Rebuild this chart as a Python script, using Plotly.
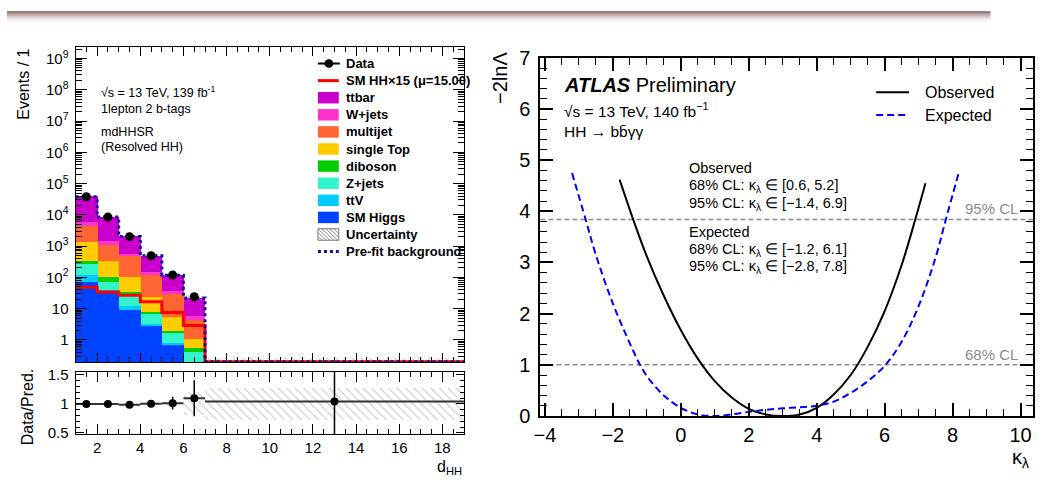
import plotly.graph_objects as go

W, H = 1058, 490
FONT = "Liberation Sans, Arial, Helvetica, sans-serif"


def px(x):
    return x / W


def py(y):
    return 1 - y / H


# ---------------- left panel data (Events / 1) ----------------
bin_edges = [1, 2, 3, 4, 5, 6, 7, 19]
bkg_names = ["ttbar", "W+jets", "multijet", "single Top", "diboson", "Z+jets", "ttV", "SM Higgs"]
bkg_colors = ["#CC00CC", "#FF33CC", "#FF6633", "#FFCC00", "#00CC00", "#33F5CC", "#00CCFF", "#0044FF"]
ttbar = [32400, 7100, 1480, 349, 82, 16.3, 0.12]
wjets = [1454, 341, 94, 24, 7.3, 1.33, 0.02]
multijet = [2820, 733, 370, 94, 23, 3.25, 0.03]
single_top = [1010, 241, 65.6, 15.7, 3.3, 0.47, 0.015]
diboson = [70, 26, 3.6, 1.3, 0.33, 0.15, 0.005]
zjets = [152, 34, 17.3, 3.3, 0.83, 0.25, 0.006]
ttv = [45, 6, 2.4, 0.41, 0.13, 0.03, 0.002]
sm_higgs = [72, 32, 9.1, 2.75, 0.66, 0.12, 0.002]
bkg_values = [ttbar, wjets, multijet, single_top, diboson, zjets, ttv, sm_higgs]

data_yield = [38000, 8500, 2010, 492, 119, 24, 0.208]
ratio_err = [0.005, 0.01, 0.02, 0.045, 0.11, 0.31, 1.5]
sm_hh_x15 = [48, 34, 27, 16.6, 7.5, 2.9, 0.2]
prefit_bkg = [38000, 8510, 2040, 490, 117, 21.9, 0.2]
unc_rel = [0.01, 0.012, 0.015, 0.025, 0.04, 0.2, 0.28]

ytick_vals = [1, 10, 1e2, 1e3, 1e4, 1e5, 1e6, 1e7, 1e8, 1e9]
ytick_text = ["1", "10", "10<sup>2</sup>", "10<sup>3</sup>", "10<sup>4</sup>", "10<sup>5</sup>",
              "10<sup>6</sup>", "10<sup>7</sup>", "10<sup>8</sup>", "10<sup>9</sup>"]
ratio_tick_vals = [0.5, 1, 1.5]
ratio_tick_text = ["0.5", "1", "1.5"]

# ---------------- right panel data ----------------
kl_obs = [-1.8, -1.4, -1.0, -0.5, 0.0, 0.5, 1.0, 1.5, 2.0, 2.5, 3.0, 3.5, 4.0, 4.5, 5.0, 5.5, 6.0, 6.5, 6.9, 7.2]
nll_obs = [4.62, 3.84, 3.12, 2.35, 1.68, 1.12, 0.68, 0.36, 0.14, 0.03, 0.0, 0.03, 0.16, 0.42, 0.8, 1.35, 2.05, 2.95, 3.84, 4.55]
kl_exp = [-3.2, -2.8, -2.5, -2.0, -1.5, -1.2, -1.0, -0.5, 0.0, 0.5, 1.0, 1.5, 2.0, 2.5, 3.0, 3.5, 4.0,
          4.5, 5.0, 5.5, 6.0, 6.5, 7.0, 7.5, 7.8, 8.2]
nll_exp = [4.75, 3.84, 3.15, 2.2, 1.42, 1.0, 0.78, 0.4, 0.16, 0.03, 0.0, 0.03, 0.08, 0.12, 0.15, 0.17, 0.2,
           0.28, 0.45, 0.68, 0.98, 1.45, 2.15, 3.1, 3.84, 4.8]
cl_levels = [1.0, 3.84]
cl_labels = ["68% CL", "95% CL"]

# ---------------- derived ----------------
nb = len(bin_edges) - 1
centers = [(bin_edges[i] + bin_edges[i + 1]) / 2 for i in range(nb)]
widths = [bin_edges[i + 1] - bin_edges[i] for i in range(nb)]
totals = [sum(v[i] for v in bkg_values) for i in range(nb)]
ratio = [d / t for d, t in zip(data_yield, totals)]

fig = go.Figure()

# stacked backgrounds (bottom -> top)
cum = [0.0] * nb
for name, color, vals in reversed(list(zip(bkg_names, bkg_colors, bkg_values))):
    fig.add_trace(go.Bar(x=centers, y=vals, base=list(cum), width=widths, name=name,
                         marker=dict(color=color, line=dict(width=0)), showlegend=False,
                         xaxis="x", yaxis="y"))
    cum = [c + v for c, v in zip(cum, vals)]

# uncertainty band (upper)
fig.add_trace(go.Bar(x=centers, y=[t * 2 * u for t, u in zip(totals, unc_rel)],
                     base=[t * (1 - u) for t, u in zip(totals, unc_rel)], width=widths,
                     marker=dict(color="rgba(0,0,0,0)", line=dict(width=0),
                                 pattern=dict(shape="\\", fgcolor="#8a8a8a", bgcolor="rgba(0,0,0,0)",
                                              size=6, solidity=0.18)),
                     showlegend=False, xaxis="x", yaxis="y"))

# SM HH x15 signal line
fig.add_trace(go.Scatter(x=bin_edges, y=sm_hh_x15 + [sm_hh_x15[-1]], mode="lines",
                         line=dict(color="#FF0000", width=3, shape="hv"), showlegend=False,
                         xaxis="x", yaxis="y"))
# pre-fit background
fig.add_trace(go.Scatter(x=bin_edges, y=prefit_bkg + [prefit_bkg[-1]], mode="lines",
                         line=dict(color="#1010A0", width=3, shape="hv", dash="dot"), showlegend=False,
                         xaxis="x", yaxis="y"))
# data (upper)
fig.add_trace(go.Scatter(x=centers[:6], y=data_yield[:6], mode="markers",
                         marker=dict(color="black", size=9), showlegend=False, xaxis="x", yaxis="y"))

# ratio uncertainty band
fig.add_trace(go.Bar(x=centers, y=[2 * u for u in unc_rel], base=[1 - u for u in unc_rel], width=widths,
                     marker=dict(color="rgba(0,0,0,0)", line=dict(width=0),
                                 pattern=dict(shape="\\", fgcolor="#8a8a8a", bgcolor="rgba(0,0,0,0)",
                                              size=6, solidity=0.18)),
                     showlegend=False, xaxis="x2", yaxis="y2"))
# ratio data
fig.add_trace(go.Scatter(x=centers, y=ratio, mode="markers",
                         marker=dict(color="black", size=8),
                         error_y=dict(type="data", array=ratio_err, color="black", thickness=1.5, width=0),
                         error_x=dict(type="data", array=[w / 2 for w in widths], color="#333333",
                                      thickness=2, width=0),
                         showlegend=False, xaxis="x2", yaxis="y2"))

# right panel curves
fig.add_trace(go.Scatter(x=kl_obs, y=nll_obs, mode="lines", name="Observed",
                         line=dict(color="black", width=2, shape="spline", smoothing=1.0),
                         showlegend=False, xaxis="x3", yaxis="y3"))
fig.add_trace(go.Scatter(x=kl_exp, y=nll_exp, mode="lines", name="Expected",
                         line=dict(color="#0000FF", width=2, shape="spline", smoothing=1.0, dash="7px,4px"),
                         showlegend=False, xaxis="x3", yaxis="y3"))

# ---------------- axes ----------------
xl = [px(69), px(460)]
tickfont_l = dict(family=FONT, size=15, color="black")
tickfont_r = dict(family=FONT, size=20, color="black")
common = dict(showline=True, linecolor="black", mirror="ticks", showgrid=False, zeroline=False,
              ticks="inside", tickcolor="black")

fig.update_layout(
    width=W, height=H, margin=dict(l=0, r=0, t=0, b=0),
    paper_bgcolor="white", plot_bgcolor="white", barmode="overlay", bargap=0,
    font=dict(family=FONT, color="black"),
    xaxis=dict(domain=xl, anchor="y", range=[1, 19], matches="x2", showticklabels=False,
               tick0=0, dtick=2, ticklen=9, linewidth=1,
               minor=dict(ticks="inside", dtick=0.5, ticklen=5, tickcolor="black"), **common),
    yaxis=dict(domain=[py(368), py(38)], anchor="x", type="log", range=[-0.721, 9.36],
               tickmode="array", tickvals=ytick_vals, ticktext=ytick_text, ticklen=11, linewidth=1,
               tickfont=tickfont_l, ticklabelstandoff=3,
               minor=dict(ticks="inside", dtick="D1", ticklen=6, tickcolor="black"), **common),
    xaxis2=dict(domain=xl, anchor="y2", range=[1, 19], tick0=0, dtick=2, ticklen=10, linewidth=1,
                tickfont=tickfont_l,
                minor=dict(ticks="inside", dtick=0.5, ticklen=5, tickcolor="black"), **common),
    yaxis2=dict(domain=[py(443), py(378)], anchor="x2", range=[0.479, 1.549], tickmode="array",
                tickvals=ratio_tick_vals, ticktext=ratio_tick_text, ticklen=8, linewidth=1,
                tickfont=tickfont_l, ticklabelstandoff=3,
                minor=dict(ticks="inside", dtick=0.1, ticklen=4, tickcolor="black"), **common),
    xaxis3=dict(domain=[px(537), px(1033)], anchor="y3", range=[-4.13, 10.37], tick0=0, dtick=2,
                ticklen=13, linewidth=2, tickwidth=2, tickfont=tickfont_r,
                minor=dict(ticks="inside", dtick=0.5, ticklen=7, tickcolor="black", tickwidth=1), **common),
    yaxis3=dict(domain=[py(424), py(49)], anchor="x3", range=[0, 7], tick0=0, dtick=1,
                ticklen=13, linewidth=2, tickwidth=2, tickfont=tickfont_r, ticklabelstandoff=4,
                minor=dict(ticks="inside", dtick=0.2, ticklen=7, tickcolor="black", tickwidth=1), **common),
)

shapes = []
annotations = []


def ann(x, y, text, size, xanchor="left", yanchor="middle", color="black", angle=0, **kw):
    annotations.append(dict(x=x, y=y, xref="paper", yref="paper", text=text, showarrow=False,
                            xanchor=xanchor, yanchor=yanchor, textangle=angle,
                            font=dict(family=FONT, size=size, color=color), **kw))


# top decorative shadow band
for (y0, y1, a) in [(0, 3, 0.75), (3, 5, 0.5), (5, 7, 0.3), (7, 9, 0.15), (9, 12, 0.06)]:
    shapes.append(dict(type="rect", xref="paper", yref="paper", x0=0, x1=px(990), y0=py(y1), y1=py(y0),
                       fillcolor=f"rgba(125,80,80,{a})", line=dict(width=0), layer="above"))

# CL reference lines (right panel)
for lvl, lab in zip(cl_levels, cl_labels):
    shapes.append(dict(type="line", xref="x3 domain", x0=0, x1=1, yref="y3", y0=lvl, y1=lvl,
                       line=dict(color="#8c8c8c", width=1.5, dash="5px,3px"), layer="below"))
    annotations.append(dict(x=0.974, y=lvl, xref="x3 domain", yref="y3", text=lab, showarrow=False,
                            xanchor="right", yanchor="bottom", yshift=0,
                            font=dict(family=FONT, size=15, color="#8c8c8c")))

# ---------------- left legend (drawn) ----------------
row0, drow = 55, 17.9
sx0, sx1, tx = 313, 334, 339
legend_rows = ["Data", "SM HH×15 (μ=15.00)"] + bkg_names + ["Uncertainty", "Pre-fit background"]
for k, lab in enumerate(legend_rows):
    y = row0 + k * drow
    ann(px(tx), py(y), "<b>" + lab + "</b>", 13)
    if lab == "Data":
        shapes.append(dict(type="line", xref="paper", yref="paper", x0=px(sx0), x1=px(sx1 + 1),
                           y0=py(y), y1=py(y), line=dict(color="black", width=2)))
        shapes.append(dict(type="circle", xref="paper", yref="paper", x0=px(319.5), x1=px(328.5),
                           y0=py(y + 4.5), y1=py(y - 4.5), fillcolor="black", line=dict(width=0)))
    elif lab.startswith("SM HH"):
        shapes.append(dict(type="line", xref="paper", yref="paper", x0=px(sx0), x1=px(sx1),
                           y0=py(y), y1=py(y), line=dict(color="#FF0000", width=3)))
    elif lab in bkg_names:
        c = bkg_colors[bkg_names.index(lab)]
        shapes.append(dict(type="rect", xref="paper", yref="paper", x0=px(sx0), x1=px(sx1),
                           y0=py(y + 6), y1=py(y - 6), fillcolor=c, line=dict(width=0)))
    elif lab == "Uncertainty":
        shapes.append(dict(type="rect", xref="paper", yref="paper", x0=px(sx0), x1=px(sx1),
                           y0=py(y + 6), y1=py(y - 6), fillcolor="white",
                           line=dict(color="#777777", width=1)))
        bw, bh = sx1 - sx0, 12
        c0 = -bh
        while c0 < bw:
            xa, ya = c0, 0.0
            xb, yb = c0 + bh, float(bh)
            if xa < 0:
                ya, xa = -xa, 0.0
            if xb > bw:
                yb, xb = bh - (xb - bw), float(bw)
            if xb > xa:
                shapes.append(dict(type="line", xref="paper", yref="paper",
                                   x0=px(sx0 + xa), x1=px(sx0 + xb),
                                   y0=py(y - 6 + ya), y1=py(y - 6 + yb),
                                   line=dict(color="#888888", width=1)))
            c0 += 4
    elif lab.startswith("Pre-fit"):
        shapes.append(dict(type="line", xref="paper", yref="paper", x0=px(sx0), x1=px(sx1),
                           y0=py(y), y1=py(y), line=dict(color="#1010A0", width=3, dash="dot")))

# ---------------- left texts ----------------
ann(px(93), py(85), "√s = 13 TeV, 139 fb<sup>-1</sup>", 12.5)
ann(px(93), py(103), "1lepton 2 b-tags", 12.5)
ann(px(93), py(127), "mdHHSR", 12.5)
ann(px(93), py(142), "(Resolved HH)", 12.5)
ann(px(17), py(37), "Events / 1", 16, xanchor="center", yanchor="top", angle=-90)
ann(px(21), py(415), "Data/Pred.", 16, xanchor="center", yanchor="middle", angle=-90)
ann(px(460), py(478), "d<sub>HH</sub>", 16, xanchor="right")

# ---------------- right texts ----------------
ann(px(559), py(78), "<b><i>ATLAS</i></b> Preliminary", 20)
ann(px(559), py(104), "√s = 13 TeV, 140 fb<sup>−1</sup>", 15.5)
ann(px(559), py(126), "HH → bb\u0304γγ", 15.5)
ann(px(496), py(41), "−2lnΛ", 20, xanchor="center", yanchor="top", angle=-90)
ann(px(1031), py(469), "κ<sub>λ</sub>", 20, xanchor="right")

res_lines = [("Observed", 164), ("68% CL: κ<sub>λ</sub> ∈ [0.6, 5.2]", 183), ("95% CL: κ<sub>λ</sub> ∈ [−1.4, 6.9]", 202),
             ("Expected", 231), ("68% CL: κ<sub>λ</sub> ∈ [−1.2, 6.1]", 250), ("95% CL: κ<sub>λ</sub> ∈ [−2.8, 7.8]", 268)]
for t, y in res_lines:
    ann(px(685), py(y), t, 14.5)

# right legend (drawn)
shapes.append(dict(type="line", xref="paper", yref="paper", x0=px(875), x1=px(908), y0=py(85), y1=py(85),
                   line=dict(color="black", width=2)))
shapes.append(dict(type="line", xref="paper", yref="paper", x0=px(875), x1=px(908), y0=py(109), y1=py(109),
                   line=dict(color="#0000FF", width=2, dash="7px,4px")))
ann(px(922), py(85), "Observed", 16)
ann(px(922), py(109), "Expected", 16)

fig.update_layout(shapes=shapes, annotations=annotations)
fig.write_html("out.html")
